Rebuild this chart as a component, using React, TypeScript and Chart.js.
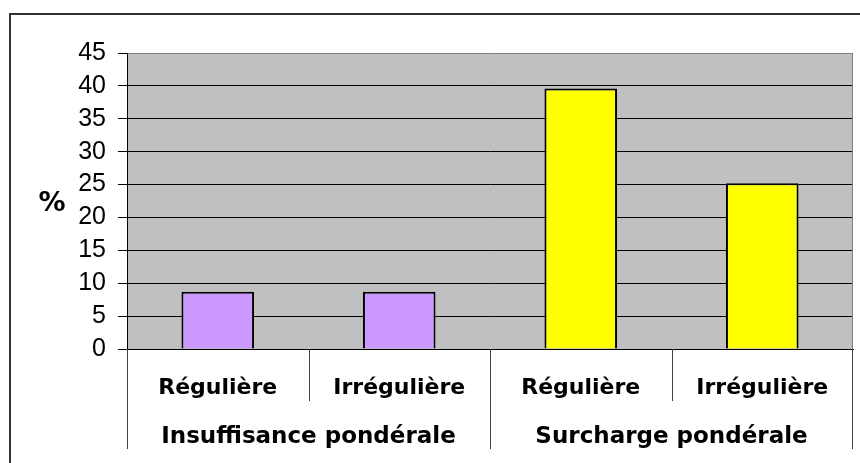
import React, { useEffect, useRef } from 'react';
import { Chart, registerables } from 'chart.js';

Chart.register(...registerables);

const subCategories = ['Régulière', 'Irrégulière', 'Régulière', 'Irrégulière'];
const groupLabels = ['Insuffisance pondérale', 'Surcharge pondérale'];
const values = [8.7, 8.7, 39.6, 25.2];
const barColors = ['#CC99FF', '#CC99FF', '#FFFF00', '#FFFF00'];
const yMin = 0;
const yMax = 45;
const yStep = 5;
const yAxisLabel = '%';

const W = 860;
const H = 463;

const framePlugin = {
  id: 'frame',
  beforeDraw(chart: any) {
    const { ctx, chartArea: a } = chart;
    ctx.save();
    ctx.fillStyle = '#ffffff';
    ctx.fillRect(0, 0, chart.width, chart.height);
    ctx.strokeStyle = '#333333';
    ctx.lineWidth = 2;
    ctx.strokeRect(10, 14, chart.width + 40, chart.height + 40);
    ctx.fillStyle = '#C0C0C0';
    ctx.fillRect(a.left, a.top, a.right - a.left, a.bottom - a.top);
    ctx.restore();
  },
  afterDraw(chart: any) {
    const { ctx, chartArea: a } = chart;
    const x = chart.scales.x;
    const x2 = chart.scales.x2;
    ctx.save();
    ctx.strokeStyle = '#808080';
    ctx.lineWidth = 1;
    ctx.beginPath();
    const rx = Math.round(a.right) - 0.5;
    ctx.moveTo(rx, a.top);
    ctx.lineTo(rx, a.bottom);
    ctx.stroke();
    const n = x.ticks.length;
    ctx.strokeStyle = '#404040';
    for (let i = 0; i <= n; i++) {
      let px: number;
      if (i === 0) px = x.left;
      else if (i === n) px = x.right;
      else px = (x.getPixelForValue(i - 1) + x.getPixelForValue(i)) / 2;
      const long = i % 2 === 0;
      const endY = long ? x2.top + 38 : x.bottom - 10;
      const sx = Math.round(px) + (i === n ? -0.5 : 0.5);
      ctx.beginPath();
      ctx.moveTo(sx, a.bottom);
      ctx.lineTo(sx, endY);
      ctx.stroke();
    }
    ctx.fillStyle = '#000000';
    ctx.font = 'bold 27px "DejaVu Sans"';
    ctx.textAlign = 'center';
    ctx.textBaseline = 'middle';
    ctx.fillText(yAxisLabel, 52, (a.top + a.bottom) / 2 + 3);
    ctx.restore();
  },
};

export default function App() {
  const ref = useRef<HTMLCanvasElement | null>(null);

  useEffect(() => {
    document.body.style.margin = '0';
    const canvas = ref.current!;
    const chart = new Chart(canvas, {
      type: 'bar',
      data: {
        labels: subCategories,
        datasets: [
          {
            data: values,
            backgroundColor: barColors,
            borderColor: '#000000',
            borderWidth: 2,
            categoryPercentage: 1,
            barPercentage: 0.4,
          },
        ],
      },
      options: {
        responsive: false,
        animation: false,
        layout: { padding: { top: 53, right: 7, left: 0, bottom: 0 } },
        plugins: { legend: { display: false }, tooltip: { enabled: false }, title: { display: false } },
        scales: {
          y: {
            min: yMin,
            max: yMax,
            ticks: {
              stepSize: yStep,
              autoSkip: false,
              padding: 12,
              color: '#000000',
              font: { family: '"Liberation Sans", Arial, sans-serif', size: 25 },
            },
            grid: {
              color: (c: any) => (c.tick && c.tick.value === yMax ? '#808080' : '#000000'),
              tickColor: '#000000',
              tickLength: 9,
              lineWidth: 1,
            },
            border: { display: true, color: '#000000', width: 1 },
            afterFit: (s: any) => {
              s.width = 127;
            },
          },
          x: {
            type: 'category',
            offset: true,
            weight: 1,
            grid: { display: false, drawTicks: false },
            border: { display: true, color: '#000000', width: 1 },
            ticks: {
              autoSkip: false,
              maxRotation: 0,
              padding: 26,
              color: '#000000',
              font: { family: '"DejaVu Sans", Verdana, sans-serif', size: 22, weight: 'bold' },
            },
            afterFit: (s: any) => {
              s.height = 62;
            },
          },
          x2: {
            type: 'category',
            labels: groupLabels,
            position: 'bottom',
            offset: true,
            weight: 2,
            grid: { display: false, drawTicks: false },
            border: { display: false },
            ticks: {
              autoSkip: false,
              maxRotation: 0,
              padding: 12,
              color: '#000000',
              font: { family: '"DejaVu Sans", Verdana, sans-serif', size: 23, weight: 'bold' },
            },
            afterFit: (s: any) => {
              s.height = 52;
            },
          },
        } as any,
      },
      plugins: [framePlugin],
    });
    return () => chart.destroy();
  }, []);

  return (
    <div style={{ position: 'absolute', left: 0, top: 0, width: W, height: H }}>
      <canvas ref={ref} width={W} height={H} style={{ display: 'block' }} />
    </div>
  );
}
